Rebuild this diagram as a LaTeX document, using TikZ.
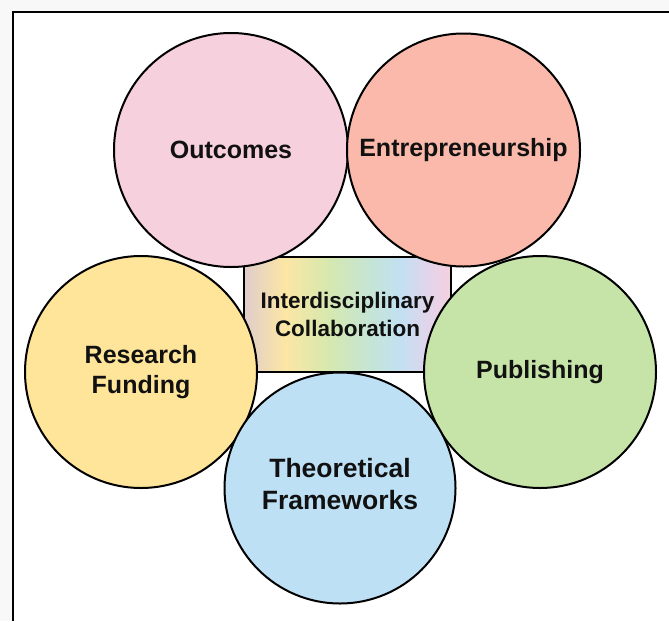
\documentclass[tikz,border=0pt]{standalone}
\usepackage{fontspec}
\setmainfont{Liberation Sans}
\definecolor{cpink}{HTML}{F6D0DC}
\definecolor{csalmon}{HTML}{FAB9AB}
\definecolor{cyellow}{HTML}{FFE59A}
\definecolor{cgreen}{HTML}{C6E3A8}
\definecolor{cblue}{HTML}{BEE0F5}
\definecolor{cbg}{HTML}{F8F8F8}
\definecolor{ctext}{HTML}{111111}
\definecolor{gA}{RGB}{223,205,203}
\definecolor{gB}{RGB}{252,230,164}
\definecolor{gC}{RGB}{213,232,176}
\definecolor{gD}{RGB}{197,229,213}
\definecolor{gE}{RGB}{194,224,242}
\definecolor{gF}{RGB}{228,212,234}
\definecolor{gG}{RGB}{244,208,222}
\pgfdeclarehorizontalshading{rainbowbox}{100bp}{%
  color(0bp)=(gA); color(25bp)=(gA); color(34.9bp)=(gB);
  color(45.8bp)=(gC); color(55.4bp)=(gD); color(62.7bp)=(gE);
  color(69.9bp)=(gF); color(75bp)=(gG); color(100bp)=(gG)}
\begin{document}
\begin{tikzpicture}[x=1pt,y=-1pt,
  bubble/.style={circle,draw=black,line width=2pt,inner sep=0pt,align=center,
    text=ctext,font=\fontsize{25}{30}\selectfont\bfseries},
  centrebox/.style={rectangle,draw=black,line width=2pt,inner sep=0pt,align=center,
    shading=rainbowbox,text=ctext,minimum width=207pt,minimum height=115pt,
    font=\fontsize{22.5}{28}\selectfont\bfseries}]
\useasboundingbox (0,0) rectangle (669,621);
\fill[cbg] (0,0) rectangle (669,621);
\fill[white] (13,12) rectangle (669,621);
\draw[line width=2pt] (13,621) -- (13,12) -- (669,12);
\node[centrebox] (collab) at (347.5,314) {Interdisciplinary\\Collaboration};
\node[bubble,fill=cpink,minimum size=234pt] (outcomes) at (231,150) {Outcomes};
\node[bubble,fill=csalmon,minimum size=233pt] (entre) at (463.5,150) {Entrepreneurship};
\node[bubble,fill=cyellow,minimum size=232pt] (funding) at (141,372) {Research\\Funding};
\node[bubble,fill=cgreen,minimum size=232pt] (publishing) at (540,372) {Publishing};
\node[bubble,fill=cblue,minimum size=231pt,font=\fontsize{26.5}{32}\selectfont\bfseries] (theory) at (340,488) {Theoretical\\Frameworks\\[-24pt]\mbox{}};
\end{tikzpicture}
\end{document}
